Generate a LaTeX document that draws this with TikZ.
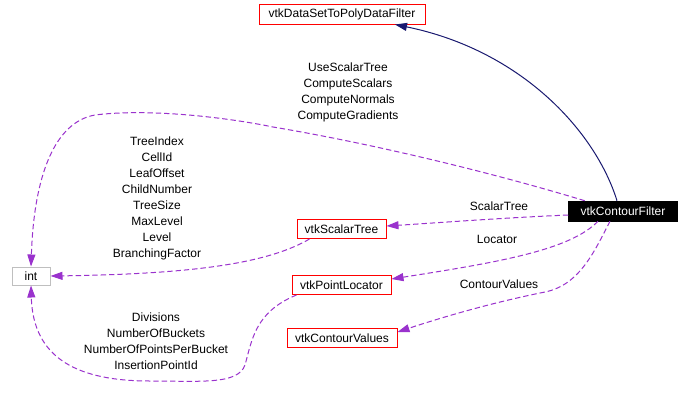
\documentclass[tikz,border=0pt]{standalone}
\usepackage{fontspec}
\setmainfont{Liberation Sans}
\usetikzlibrary{arrows.meta}
\definecolor{edgepurple}{HTML}{9A32CD}
\definecolor{edgenavy}{HTML}{191970}
\definecolor{boxgray}{HTML}{BFBFBF}
\tikzset{
  lbl/.style={font=\fontsize{9}{12}\selectfont, align=center, inner sep=0pt},
  cls/.style={draw=red, line width=0.75pt, font=\fontsize{9}{11}\selectfont, inner sep=0pt, minimum height=14.25pt},
  prim/.style={draw=boxgray, line width=0.75pt, font=\fontsize{9}{11}\selectfont, inner sep=0pt, minimum height=13.5pt},
  focus/.style={draw=black, fill=black, text=white, font=\fontsize{9}{11}\selectfont, inner sep=0pt, minimum height=15pt},
  uses/.style={draw=edgepurple, line width=0.75pt, dash pattern=on 4pt off 2.25pt, -{Triangle[length=9pt,width=6pt]}},
  inherit/.style={draw=edgenavy, line width=0.75pt, -{Triangle[length=9pt,width=6pt]}},
}
\begin{document}
\begin{tikzpicture}[x=0.75pt,y=-0.75pt]
\useasboundingbox[fill=white] (0,0) rectangle (685,414);
% nodes
\node[cls, minimum width=124.5pt, minimum height=15pt] (dsp) at (342,14) {vtkDataSetToPolyDataFilter};
\node[focus, minimum width=81.75pt] (cf) at (623,211) {vtkContourFilter};
\node[prim, minimum width=28.5pt] (int) at (31,276) {int};
\node[cls, minimum width=66.75pt] (st) at (341.5,229) {vtkScalarTree};
\node[cls, minimum width=74.25pt] (pl) at (341.5,285) {vtkPointLocator};
\node[cls, minimum width=82.5pt] (cv) at (342,338) {vtkContourValues};
% labels
\node[lbl] (l1) at (348,92) {UseScalarTree\\ComputeScalars\\ComputeNormals\\ComputeGradients};
\node[lbl] (l2) at (157,198) {TreeIndex\\CellId\\LeafOffset\\ChildNumber\\TreeSize\\MaxLevel\\Level\\BranchingFactor};
\node[lbl] (l3) at (156,341) {Divisions\\NumberOfBuckets\\NumberOfPointsPerBucket\\InsertionPointId};
\node[lbl] (l4) at (499,206) {ScalarTree};
\node[lbl] (l5) at (497,239) {Locator};
\node[lbl] (l6) at (499,284) {ContourValues};
% edges
\draw[inherit] ([shift={(-6,0)}]cf.north) .. controls (595,130) and (520,50) .. ([shift={(53,0)}]dsp.south);
\draw[uses] ([shift={(16.5,0)}]cf.north west) .. controls (500,175) and (380,145) .. (273,127)
   .. controls (230,118) and (150,108) .. (95,115)
   .. controls (55,122) and (34,175) .. (int.north);
\draw[uses] ([shift={(0,4)}]cf.west) .. controls (500,218) and (450,222) .. ([shift={(0,-3)}]st.east);
\draw[uses] ([shift={(13,0)}]st.south west) .. controls (270,262) and (200,274) .. (int.east);
\draw[uses] ([shift={(-25,0)}]cf.south) .. controls (570,250) and (500,262) .. ([shift={(0,-6)}]pl.east);
\draw[uses] ([shift={(-13,0)}]cf.south) .. controls (595,250) and (580,285) .. (545,292)
   .. controls (490,303) and (440,318) .. ([shift={(0,-6)}]cv.east);
\draw[uses] ([shift={(5,0)}]pl.south west) .. controls (255,312) and (252,340) .. (245,365)
   .. controls (238,385) and (200,381) .. (150,381)
   .. controls (80,381) and (33,360) .. (int.south);
\end{tikzpicture}
\end{document}
